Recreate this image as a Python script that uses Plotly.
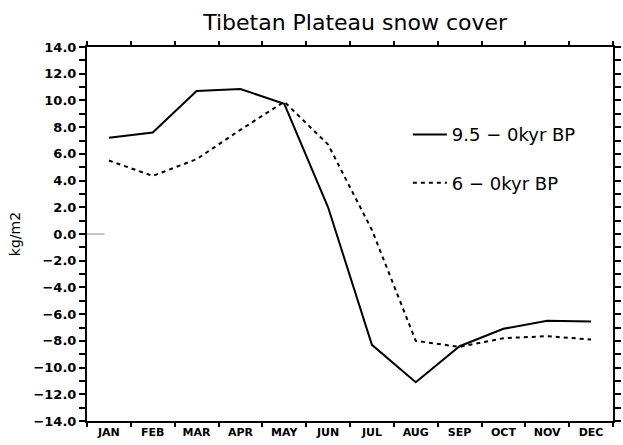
import plotly.graph_objects as go

months = ["JAN", "FEB", "MAR", "APR", "MAY", "JUN", "JUL", "AUG", "SEP", "OCT", "NOV", "DEC"]
snow_95 = [7.2, 7.6, 10.7, 10.85, 9.75, 2.0, -8.3, -11.1, -8.4, -7.1, -6.5, -6.55]
snow_6 = [5.5, 4.35, 5.6, 7.8, 9.9, 6.7, 0.3, -8.0, -8.45, -7.8, -7.65, -7.9]
name_95 = "9.5 − 0kyr BP"
name_6 = "6 − 0kyr BP"
yticks = list(range(-14, 15, 2))
ylabels = [f"{v:.1f}".replace("-", "−") for v in yticks]

fig = go.Figure()
fig.add_trace(go.Scatter(x=months, y=snow_95, mode="lines", name=name_95,
                         line=dict(color="black", width=2), legendgroup="a"))
fig.add_trace(go.Scatter(x=months, y=snow_6, mode="lines", name=name_6,
                         line=dict(color="black", width=2, dash="4px,4px"), legendgroup="b"))

# short grey zero marker near the left axis
fig.add_shape(type="line", xref="x", yref="y", x0=-0.5, x1=-0.1, y0=0, y1=0,
              line=dict(color="#888888", width=1))

fig.update_layout(
    width=623, height=445,
    margin=dict(l=87, r=2, t=47, b=24),
    paper_bgcolor="white", plot_bgcolor="white",
    title=dict(text="Tibetan Plateau snow cover", x=0.57, xanchor="center", y=0.95, yanchor="middle",
               font=dict(family="DejaVu Sans", size=22, color="black")),
    showlegend=True,
    legend=dict(x=0.61, y=0.815, xanchor="left", yanchor="top", bgcolor="rgba(0,0,0,0)",
                font=dict(family="DejaVu Sans", size=18, color="black"),
                tracegroupgap=22, itemwidth=34),
    xaxis=dict(type="category", range=[-0.5, 11.5], tickson="boundaries",
               ticks="outside", ticklen=4, tickwidth=1.5, tickcolor="black",
               showline=True, linecolor="black", linewidth=2, mirror="ticks",
               showgrid=False, zeroline=False,
               tickfont=dict(family="DejaVu Sans", size=11, color="black", weight="bold")),
    yaxis=dict(range=[-14, 14], tickvals=yticks, ticktext=ylabels,
               ticks="outside", ticklen=6, tickwidth=1.5, tickcolor="black",
               showline=True, linecolor="black", linewidth=2, mirror="ticks",
               showgrid=False, zeroline=False,
               minor=dict(dtick=1, ticks="outside", ticklen=6, tickwidth=1.5, tickcolor="black"),
               tickfont=dict(family="DejaVu Sans", size=13, color="black", weight="bold"),
               title=dict(text="kg/m2", standoff=10,
                          font=dict(family="DejaVu Sans", size=14, color="black"))),
)

fig.write_html("out.html", config={"displayModeBar": False},
               post_script="document.body.style.margin='0';")
